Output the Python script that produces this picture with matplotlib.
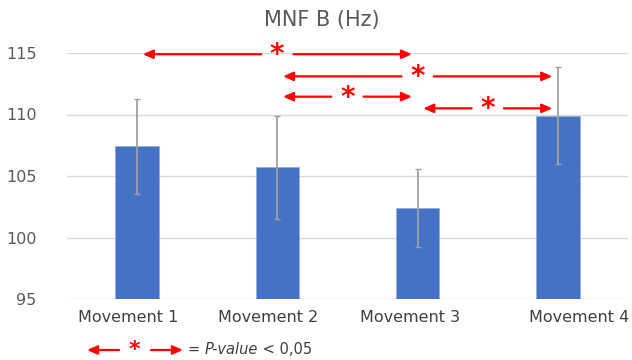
import matplotlib
matplotlib.use('Agg')
import matplotlib.pyplot as plt
import matplotlib.transforms as mtransforms
from matplotlib.patches import FancyArrowPatch

# mean MNF per movement with its spread
movements = ['Movement 1', 'Movement 2', 'Movement 3', 'Movement 4']
mnf_mean = [107.4, 105.7, 102.4, 109.9]
mnf_err = [3.85, 4.2, 3.2, 3.95]

# significant pairs (index a, index b) and the height of each bracket
sig_pairs = [(0, 2), (1, 3), (1, 2), (2, 3)]
sig_levels = [114.9, 113.1, 111.45, 110.5]

BAR_COLOR = '#4472C4'
RED = '#FF0000'
GRID = '#D9D9D9'
TEXT = '#595959'

W, H = 632, 360
fig = plt.figure(figsize=(W / 100, H / 100), dpi=100)
ax = fig.add_axes([67 / W, 1 - 299 / H, 561 / W, 246 / H])

x = list(range(len(movements)))
ax.bar(x, mnf_mean, width=0.31, color=BAR_COLOR, edgecolor='#8FAADC', linewidth=0.5, zorder=2)
ax.errorbar(x, mnf_mean, yerr=mnf_err, fmt='none', ecolor='#A0A0A0',
            elinewidth=1.3, capsize=2.5, capthick=1.0, zorder=3)

ax.set_xlim(-0.5, 3.5)
ax.set_ylim(95, 115)
ax.set_yticks([95, 100, 105, 110, 115])
ax.grid(axis='y', color=GRID, linewidth=1.0, zorder=0)
ax.set_axisbelow(True)
for s in ax.spines.values():
    s.set_visible(False)
ax.tick_params(axis='both', length=0)
ax.tick_params(axis='y', labelsize=11.5, labelcolor=TEXT, pad=22)
ax.set_xticks(x)
ax.set_xticklabels(movements, fontsize=11.5, color='#404040')
ax.tick_params(axis='x', pad=8)

# nudge the category labels sideways a little (pixels)
label_shift = [-9, -9, -8, 21]
for lab, dx in zip(ax.get_xticklabels(), label_shift):
    lab.set_transform(lab.get_transform() + mtransforms.ScaledTranslation(dx / 100, 0, fig.dpi_scale_trans))

fig.text(322 / W, 1 - 20 / H, 'MNF B (Hz)', fontsize=15, color=TEXT, ha='center', va='center')


def split_arrow(ax, x0, x1, y, gap, trans, star_size=20, star_lift=0.0):
    mid = (x0 + x1) / 2
    style = '-|>,head_length=0.5,head_width=0.22'
    for start, end in [(mid - gap, x0), (mid + gap, x1)]:
        arr = FancyArrowPatch((start, y), (end, y), arrowstyle=style, mutation_scale=12,
                              color=RED, lw=1.6, transform=trans, clip_on=False,
                              shrinkA=0, shrinkB=0, zorder=4)
        ax.add_artist(arr)
    star_trans = trans + mtransforms.ScaledTranslation(0, star_lift, fig.dpi_scale_trans)
    ax.text(mid, y, r'$\mathbf{*}$', color=RED, fontsize=star_size, ha='center', va='center',
            transform=star_trans, clip_on=False, zorder=5)


inset = 0.04
for (a, b), lvl in zip(sig_pairs, sig_levels):
    split_arrow(ax, a + inset, b - inset, lvl, 0.115, ax.transData, star_lift=0.01)

# key below the chart
fy = 1 - 350 / H
split_arrow(fig, 87 / W, 183 / W, fy, 16 / W, fig.transFigure, star_size=16, star_lift=0.02)

renderer = fig.canvas.get_renderer()
xpos = 188 / W
for part, style in [('= ', 'normal'), ('P-value', 'italic'), (' < 0,05', 'normal')]:
    t = fig.text(xpos, fy, part, fontsize=10.5, color='#404040', va='center', ha='left', style=style)
    bb = t.get_window_extent(renderer)
    xpos += bb.width / W

fig.savefig('out.png', dpi=100)
